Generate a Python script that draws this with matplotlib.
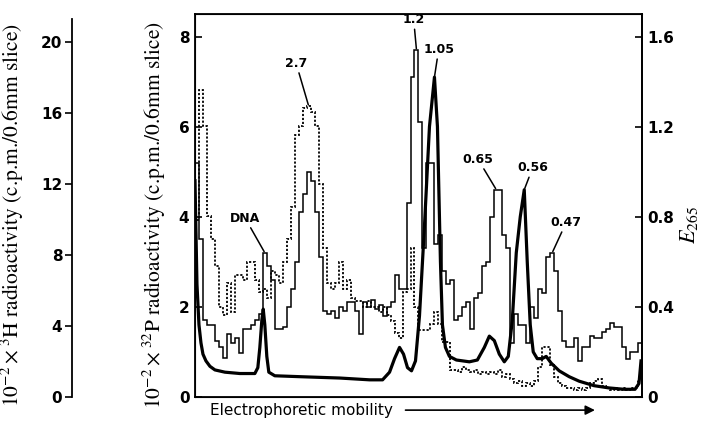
import numpy as np
import matplotlib
matplotlib.use("Agg")
import matplotlib.pyplot as plt

plt.rcParams['mathtext.fontset'] = 'stix'

# 32P radioactivity per slice (10^-2 x c.p.m.), solid steps
p32 = [5.2, 3.5, 1.7, 1.6, 1.6, 1.25, 1.1, 0.87, 1.4, 1.2,
       1.3, 0.98, 1.5, 1.5, 1.6, 1.7, 1.85, 3.2, 2.9, 2.6,
       1.5, 1.5, 1.55, 2.0, 2.4, 3.0, 4.1, 4.5, 5.0, 4.8,
       4.1, 3.1, 1.9, 1.85, 1.9, 1.75, 2.0, 1.9, 2.1, 2.1,
       1.9, 1.4, 2.1, 2.0, 2.15, 1.95, 2.05, 1.8, 2.0, 2.1,
       2.7, 2.4, 2.4, 4.3, 7.1, 7.7, 6.1, 3.3, 5.2, 5.2,
       3.4, 3.6, 2.8, 2.5, 2.6, 1.7, 1.8, 2.0, 2.1, 1.5,
       2.2, 2.3, 2.9, 3.0, 4.0, 4.6, 4.6, 3.6, 3.3, 1.2,
       1.85, 1.6, 1.6, 1.2, 2.0, 1.75, 2.4, 2.3, 3.1, 3.2,
       2.8, 1.9, 1.25, 1.1, 1.1, 1.3, 0.8, 1.1, 1.1, 1.35,
       1.3, 1.3, 1.45, 1.5, 1.65, 1.55, 1.55, 1.1, 0.85, 1.0,
       1.0, 1.2]

# 3H radioactivity per slice (10^-2 x c.p.m.), dotted steps
h3 = [10.0, 17.3, 15.3, 10.2, 8.9, 7.4, 5.1, 4.6, 6.4, 4.8,
      6.9, 6.9, 6.6, 7.6, 7.6, 6.6, 5.9, 6.1, 5.6, 7.1,
      6.9, 6.4, 7.6, 8.9, 10.7, 14.8, 15.3, 16.3, 16.4, 16.1,
      15.3, 12.0, 8.4, 6.4, 6.1, 6.4, 7.6, 6.1, 6.6, 5.6,
      5.4, 5.4, 5.1, 5.4, 5.1, 5.1, 4.8, 5.1, 4.6, 4.3,
      3.6, 3.3, 5.9, 6.1, 8.4, 5.1, 3.8, 3.8, 3.8, 4.1,
      4.8, 4.1, 3.1, 3.1, 1.5, 1.5, 1.4, 1.7, 1.5, 1.4,
      1.5, 1.3, 1.4, 1.3, 1.4, 1.3, 1.5, 1.1, 1.3, 1.0,
      0.8, 0.9, 0.6, 0.8, 0.6, 0.9, 1.7, 2.8, 2.8, 1.8,
      1.1, 0.8, 0.6, 0.5, 0.5, 0.4, 0.5, 0.4, 0.5, 0.8,
      0.9, 1.0, 0.6, 0.5, 0.4, 0.5, 0.4, 0.5, 0.4, 0.5,
      0.5, 1.0]

# E265 absorbance trace (position in slices, extinction)
e_pos = [0, 0.5, 1, 1.5, 2, 2.75, 3.75, 5, 7.5, 11.25,
         15, 15.75, 16.25, 16.75, 17.1, 17.5, 18, 18.5, 20, 26.25,
         36.25, 43.75, 47, 48.75, 50, 51.25, 52.25, 53.25, 54.25, 55.25,
         56.25, 57.5, 58.75, 60, 60.75, 61.5, 62, 62.75, 63.75, 65.5,
         68.75, 70.75, 72.5, 73.75, 75, 76.25, 77.5, 78.5, 79.5, 80.5,
         81.5, 82.5, 83.25, 84, 84.75, 85.75, 87, 88, 89.25, 91.25,
         93.75, 96.25, 100, 103.75, 107.5, 110.25, 111.25, 111.75]
e265 = [0.96, 0.5, 0.32, 0.24, 0.19, 0.16, 0.136, 0.12, 0.11, 0.104,
        0.104, 0.13, 0.22, 0.34, 0.39, 0.32, 0.18, 0.11, 0.094, 0.09,
        0.084, 0.076, 0.076, 0.11, 0.17, 0.22, 0.19, 0.13, 0.116, 0.16,
        0.36, 0.76, 1.2, 1.42, 1.2, 0.6, 0.32, 0.22, 0.18, 0.164,
        0.156, 0.164, 0.22, 0.27, 0.25, 0.19, 0.156, 0.18, 0.34, 0.64,
        0.8, 0.92, 0.6, 0.32, 0.2, 0.17, 0.17, 0.18, 0.15, 0.116,
        0.09, 0.07, 0.05, 0.04, 0.034, 0.034, 0.06, 0.16]

# peak labels: (text, series, slice index)
peak_labels = [("DNA", "p32", 17), ("2.7", "h3", 28), ("1.2", "p32", 55),
               ("1.05", "e265", 33), ("0.65", "p32", 75), ("0.56", "e265", 51),
               ("0.47", "p32", 89)]
label_offsets = {"DNA": (-14, 20), "2.7": (-9, 26), "1.2": (-2, 17), "1.05": (3, 15),
                 "0.65": (-13, 17), "0.56": (6, 11), "0.47": (10, 17)}

tick_font = dict(fontsize=11, fontweight='bold', family='DejaVu Sans')

fig = plt.figure(figsize=(7.09, 4.25), dpi=100)
ax = fig.add_axes([0.275, 0.066, 0.6305, 0.901])
ax_h = ax.twinx()
ax_e = ax.twinx()

edges = np.arange(len(p32) + 1)
ax.stairs(p32, edges, color='black', lw=1.1)
ax_h.stairs(h3, np.arange(len(h3) + 1), color='black', lw=1.3, linestyle=(0, (1.2, 1.0)))
ax_e.plot(e_pos, e265, color='black', lw=2.3, solid_joinstyle='round')

ax.set_xlim(0, len(p32))
ax.set_ylim(0, 8.5)
ax_h.set_ylim(0, 21.6)
ax_e.set_ylim(0, 1.7)

ax.set_xticks([])
ax.set_yticks([0, 2, 4, 6, 8])
ax.tick_params(axis='y', direction='in', length=5, width=1.2, pad=4)
for lab in ax.get_yticklabels():
    lab.set(**tick_font)
ax_h.set_yticks([])
for s in ax_h.spines.values():
    s.set_visible(False)
ax_e.set_yticks([0, 0.4, 0.8, 1.2, 1.6])
ax_e.set_yticklabels(['0', '0.4', '0.8', '1.2', '1.6'])
ax_e.tick_params(axis='y', direction='in', length=5, width=1.2, pad=4)
for lab in ax_e.get_yticklabels():
    lab.set(**tick_font)
for s in ax.spines.values():
    s.set_linewidth(1.3)
ax_e.spines['right'].set_linewidth(1.3)

# separate 3H scale on the far left
ax3 = fig.add_axes([0.1016, 0.066, 0.0001, 0.901])
ax3.set_ylim(0, 21.6)
ax3.set_xticks([])
for side in ['top', 'right', 'bottom']:
    ax3.spines[side].set_visible(False)
ax3.spines['left'].set_bounds(0, 21.3)
ax3.spines['left'].set_linewidth(1.3)
ax3.patch.set_visible(False)
ax3.set_yticks([0, 4, 8, 12, 16, 20])
ax3.tick_params(axis='y', direction='out', length=5, width=1.2, pad=2)
for lab in ax3.get_yticklabels():
    lab.set(**tick_font)

# axis titles
fig.text(0.018, 0.495, r"$10^{-2}\times{}^{3}$H radioactivity (c.p.m./0.6mm slice)",
         rotation=90, ha='center', va='center', fontsize=15.5, family='STIXGeneral')
fig.text(0.218, 0.495, r"$10^{-2}\times{}^{32}$P radioactivity (c.p.m./0.6mm slice)",
         rotation=90, ha='center', va='center', fontsize=15.5, family='STIXGeneral')
fig.text(0.972, 0.47, r"$E_{265}$", rotation=90, ha='center', va='center', fontsize=16)

# x-axis caption with arrow
fig.text(0.296, 0.035, "Electrophoretic mobility", ha='left', va='center', fontsize=11)
fig.add_artist(matplotlib.patches.FancyArrowPatch((0.568, 0.035), (0.843, 0.035),
               transform=fig.transFigure, arrowstyle='-|>', mutation_scale=14,
               color='black', lw=1.2))

# peak annotations
series = {"p32": (ax, p32, None), "h3": (ax_h, h3, None), "e265": (ax_e, e265, e_pos)}
for text, key, idx in peak_labels:
    a, vals, pos = series[key]
    x = pos[idx] if pos is not None else idx + 0.5
    a.annotate(text, xy=(x, vals[idx]), xytext=label_offsets[text], textcoords='offset points',
               ha='center', va='bottom', fontsize=9, fontweight='bold',
               arrowprops=dict(arrowstyle='-', color='black', lw=1.1, shrinkA=0, shrinkB=1))

fig.savefig("out.png", dpi=100)
